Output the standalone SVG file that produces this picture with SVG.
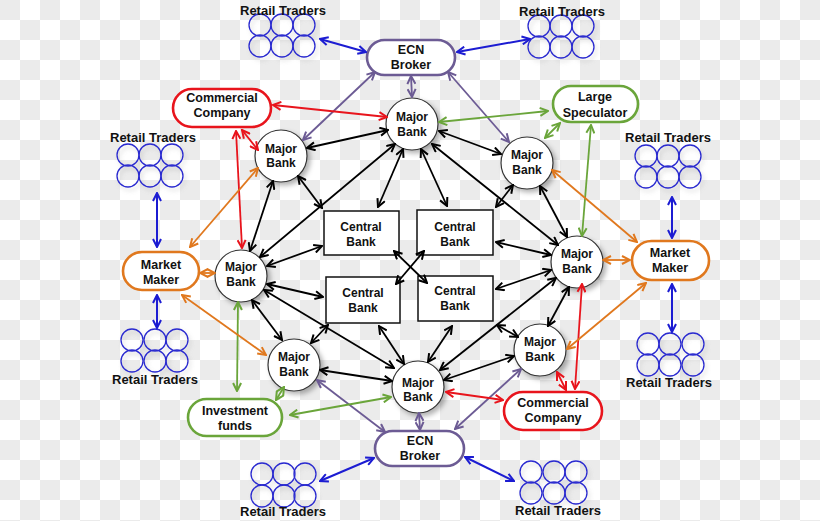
<svg xmlns="http://www.w3.org/2000/svg" width="820" height="521" viewBox="0 0 820 521">
<defs>
<pattern id="chk" x="0" y="0" width="40" height="40" patternUnits="userSpaceOnUse">
<rect width="40" height="40" fill="#ffffff"/>
<rect width="20" height="20" fill="#ebebeb"/>
<rect x="20" y="20" width="20" height="20" fill="#ebebeb"/>
</pattern>
<filter id="sh" x="-30%" y="-30%" width="170%" height="170%">
<feDropShadow dx="3" dy="3" stdDeviation="2.5" flood-color="#000" flood-opacity="0.3"/>
</filter>
<filter id="glow" x="-30%" y="-30%" width="170%" height="170%">
<feDropShadow dx="2" dy="3" stdDeviation="2" flood-color="#888" flood-opacity="0.35"/>
</filter>
<marker id="mk" viewBox="0 0 10 10" refX="9" refY="5" markerWidth="10" markerHeight="10" markerUnits="userSpaceOnUse" orient="auto-start-reverse"><path d="M1,1 L9,5 L1,9" fill="none" stroke="#000" stroke-width="2"/></marker>
<marker id="mb" viewBox="0 0 10 10" refX="9" refY="5" markerWidth="10" markerHeight="10" markerUnits="userSpaceOnUse" orient="auto-start-reverse"><path d="M1,1 L9,5 L1,9" fill="none" stroke="#1c1cd2" stroke-width="2"/></marker>
<marker id="mp" viewBox="0 0 10 10" refX="9" refY="5" markerWidth="10" markerHeight="10" markerUnits="userSpaceOnUse" orient="auto-start-reverse"><path d="M1,1 L9,5 L1,9" fill="none" stroke="#6c5b94" stroke-width="2"/></marker>
<marker id="mr" viewBox="0 0 10 10" refX="9" refY="5" markerWidth="10" markerHeight="10" markerUnits="userSpaceOnUse" orient="auto-start-reverse"><path d="M1,1 L9,5 L1,9" fill="none" stroke="#e8141c" stroke-width="2"/></marker>
<marker id="mg" viewBox="0 0 10 10" refX="9" refY="5" markerWidth="10" markerHeight="10" markerUnits="userSpaceOnUse" orient="auto-start-reverse"><path d="M1,1 L9,5 L1,9" fill="none" stroke="#6aa53a" stroke-width="2"/></marker>
<marker id="mo" viewBox="0 0 10 10" refX="9" refY="5" markerWidth="10" markerHeight="10" markerUnits="userSpaceOnUse" orient="auto-start-reverse"><path d="M1,1 L9,5 L1,9" fill="none" stroke="#e0781e" stroke-width="2"/></marker>
</defs>
<style>
text{font-family:"Liberation Sans",Arial,sans-serif;font-weight:bold;font-size:12px;fill:#111;text-anchor:middle}
.lbl{font-size:13px}
.pt{font-size:12.5px}
.tc{fill:none;stroke:#2a2ad0;stroke-width:1.3}
.bank{fill:#fff;stroke:#333;stroke-width:1.2;filter:url(#sh)}
.cb{fill:#fff;stroke:#111;stroke-width:1.5}
.pill{fill:#fff;stroke-width:2.6}
.ecn{stroke:#6c5b94}
.red{stroke:#e8141c}
.grn{stroke:#6aa53a}
.org{stroke:#e0781e}
.k{stroke:#000;stroke-width:1.8;marker-start:url(#mk);marker-end:url(#mk);fill:none}
.b{stroke:#1c1cd2;stroke-width:2;marker-start:url(#mb);marker-end:url(#mb);fill:none}
.p{stroke:#6c5b94;stroke-width:1.8;marker-start:url(#mp);marker-end:url(#mp);fill:none}
.r{stroke:#e8141c;stroke-width:1.8;marker-start:url(#mr);marker-end:url(#mr);fill:none}
.g{stroke:#6aa53a;stroke-width:1.8;marker-start:url(#mg);marker-end:url(#mg);fill:none}
.o{stroke:#e0781e;stroke-width:1.8;marker-start:url(#mo);marker-end:url(#mo);fill:none}
</style>
<rect width="820" height="521" fill="url(#chk)"/>

<g id="traders-top-left">
<g filter="url(#glow)"><circle class="tc" cx="260" cy="25" r="11"/><circle class="tc" cx="282" cy="25" r="11"/><circle class="tc" cx="304" cy="25" r="11"/><circle class="tc" cx="260" cy="46" r="11"/><circle class="tc" cx="282" cy="46" r="11"/><circle class="tc" cx="304" cy="46" r="11"/></g>
<text class="lbl" x="283" y="15">Retail Traders</text>
</g>
<g id="traders-top-right">
<g filter="url(#glow)"><circle class="tc" cx="539" cy="26" r="11"/><circle class="tc" cx="561" cy="26" r="11"/><circle class="tc" cx="583" cy="26" r="11"/><circle class="tc" cx="539" cy="47" r="11"/><circle class="tc" cx="561" cy="47" r="11"/><circle class="tc" cx="583" cy="47" r="11"/></g>
<text class="lbl" x="562" y="16">Retail Traders</text>
</g>
<g id="traders-left-upper">
<g filter="url(#glow)"><circle class="tc" cx="128" cy="155" r="11"/><circle class="tc" cx="150" cy="155" r="11"/><circle class="tc" cx="172" cy="155" r="11"/><circle class="tc" cx="128" cy="176" r="11"/><circle class="tc" cx="150" cy="176" r="11"/><circle class="tc" cx="172" cy="176" r="11"/></g>
<text class="lbl" x="153" y="142">Retail Traders</text>
</g>
<g id="traders-right-upper">
<g filter="url(#glow)"><circle class="tc" cx="646" cy="156" r="11"/><circle class="tc" cx="668" cy="156" r="11"/><circle class="tc" cx="690" cy="156" r="11"/><circle class="tc" cx="646" cy="177" r="11"/><circle class="tc" cx="668" cy="177" r="11"/><circle class="tc" cx="690" cy="177" r="11"/></g>
<text class="lbl" x="668" y="142">Retail Traders</text>
</g>
<g id="traders-left-lower">
<g filter="url(#glow)"><circle class="tc" cx="132" cy="340" r="11"/><circle class="tc" cx="155" cy="340" r="11"/><circle class="tc" cx="177" cy="340" r="11"/><circle class="tc" cx="132" cy="361" r="11"/><circle class="tc" cx="155" cy="361" r="11"/><circle class="tc" cx="177" cy="361" r="11"/></g>
<text class="lbl" x="155" y="384">Retail Traders</text>
</g>
<g id="traders-right-lower">
<g filter="url(#glow)"><circle class="tc" cx="648" cy="344" r="11"/><circle class="tc" cx="670" cy="344" r="11"/><circle class="tc" cx="693" cy="344" r="11"/><circle class="tc" cx="648" cy="365" r="11"/><circle class="tc" cx="670" cy="365" r="11"/><circle class="tc" cx="693" cy="365" r="11"/></g>
<text class="lbl" x="669" y="387">Retail Traders</text>
</g>
<g id="traders-bottom-left">
<g filter="url(#glow)"><circle class="tc" cx="262" cy="474" r="11"/><circle class="tc" cx="284" cy="474" r="11"/><circle class="tc" cx="305" cy="474" r="11"/><circle class="tc" cx="262" cy="496" r="11"/><circle class="tc" cx="284" cy="496" r="11"/><circle class="tc" cx="305" cy="496" r="11"/></g>
<text class="lbl" x="283" y="516">Retail Traders</text>
</g>
<g id="traders-bottom-right">
<g filter="url(#glow)"><circle class="tc" cx="531" cy="472" r="11"/><circle class="tc" cx="554" cy="472" r="11"/><circle class="tc" cx="576" cy="472" r="11"/><circle class="tc" cx="531" cy="493" r="11"/><circle class="tc" cx="554" cy="493" r="11"/><circle class="tc" cx="576" cy="493" r="11"/></g>
<text class="lbl" x="558" y="515">Retail Traders</text>
</g>

<g id="ecn-top"><rect class="pill ecn" x="367" y="40" width="88" height="35" rx="17.5"/><text class="pt" x="411" y="54">ECN</text><text class="pt" x="411" y="69">Broker</text></g>
<g id="ecn-bottom"><rect class="pill ecn" x="375" y="431" width="89" height="35" rx="17.5"/><text class="pt" x="420" y="445">ECN</text><text class="pt" x="420" y="460">Broker</text></g>
<g id="commercial-top"><rect class="pill red" x="173" y="89" width="98" height="38" rx="19"/><text class="pt" x="222" y="102">Commercial</text><text class="pt" x="222" y="117">Company</text></g>
<g id="commercial-bottom"><rect class="pill red" x="504" y="392" width="98" height="38" rx="19"/><text class="pt" x="553" y="407">Commercial</text><text class="pt" x="553" y="422">Company</text></g>
<g id="large-speculator"><rect class="pill grn" x="553" y="86" width="85" height="36" rx="18"/><text class="pt" x="595" y="101">Large</text><text class="pt" x="595" y="117">Speculator</text></g>
<g id="investment-funds"><rect class="pill grn" x="188" y="399" width="94" height="37" rx="18.5"/><text class="pt" x="235" y="415">Investment</text><text class="pt" x="235" y="430">funds</text></g>
<g id="market-maker-left"><rect class="pill org" x="123" y="252" width="76" height="38" rx="19"/><text class="pt" x="161" y="269">Market</text><text class="pt" x="161" y="284">Maker</text></g>
<g id="market-maker-right"><rect class="pill org" x="632" y="241" width="77" height="39" rx="19.5"/><text class="pt" x="670" y="257">Market</text><text class="pt" x="670" y="272">Maker</text></g>

<g id="bank-top"><circle class="bank" cx="412" cy="124" r="26"/><text x="412" y="121">Major</text><text x="412" y="136">Bank</text></g>
<g id="bank-upper-left"><circle class="bank" cx="281" cy="156" r="26"/><text x="281" y="153">Major</text><text x="281" y="167">Bank</text></g>
<g id="bank-upper-right"><circle class="bank" cx="527" cy="163" r="26"/><text x="527" y="159">Major</text><text x="527" y="174">Bank</text></g>
<g id="bank-left"><circle class="bank" cx="241" cy="276" r="26"/><text x="241" y="271">Major</text><text x="241" y="286">Bank</text></g>
<g id="bank-right"><circle class="bank" cx="577" cy="262" r="26"/><text x="577" y="258">Major</text><text x="577" y="273">Bank</text></g>
<g id="bank-lower-left"><circle class="bank" cx="294" cy="365" r="26"/><text x="294" y="361">Major</text><text x="294" y="376">Bank</text></g>
<g id="bank-lower-right"><circle class="bank" cx="540" cy="350" r="26"/><text x="540" y="346">Major</text><text x="540" y="361">Bank</text></g>
<g id="bank-bottom"><circle class="bank" cx="418" cy="387" r="26"/><text x="418" y="387">Major</text><text x="418" y="401">Bank</text></g>

<g id="central-tl"><rect class="cb" x="324" y="211" width="75" height="44"/><text x="361" y="231">Central</text><text x="361" y="246">Bank</text></g>
<g id="central-tr"><rect class="cb" x="417" y="210" width="76" height="45"/><text x="455" y="231">Central</text><text x="455" y="246">Bank</text></g>
<g id="central-bl"><rect class="cb" x="326" y="277" width="74" height="46"/><text x="363" y="297">Central</text><text x="363" y="312">Bank</text></g>
<g id="central-br"><rect class="cb" x="418" y="276" width="75" height="45"/><text x="455" y="295">Central</text><text x="455" y="310">Bank</text></g>

<g id="connectors">
<line class="k" x1="388" y1="130" x2="307" y2="148"/>
<line class="k" x1="439" y1="131" x2="501" y2="154"/>
<line class="k" x1="395" y1="144" x2="260" y2="257"/>
<line class="k" x1="432" y1="144" x2="558" y2="245"/>
<line class="k" x1="403" y1="149" x2="378" y2="207"/>
<line class="k" x1="421" y1="149" x2="447" y2="206"/>
<line class="k" x1="273" y1="181" x2="250" y2="251"/>
<line class="k" x1="298" y1="176" x2="322" y2="208"/>
<line class="k" x1="540" y1="186" x2="567" y2="237"/>
<line class="k" x1="513" y1="185" x2="496" y2="207"/>
<line class="k" x1="267" y1="266" x2="322" y2="246"/>
<line class="k" x1="267" y1="284" x2="323" y2="297"/>
<line class="k" x1="252" y1="300" x2="282" y2="340"/>
<line class="k" x1="264" y1="290" x2="394" y2="368"/>
<line class="k" x1="551" y1="255" x2="496" y2="242"/>
<line class="k" x1="551" y1="270" x2="496" y2="289"/>
<line class="k" x1="569" y1="287" x2="548" y2="326"/>
<line class="k" x1="556" y1="278" x2="440" y2="370"/>
<line class="k" x1="311" y1="343" x2="328" y2="325"/>
<line class="k" x1="320" y1="370" x2="392" y2="381"/>
<line class="k" x1="518" y1="337" x2="497" y2="325"/>
<line class="k" x1="514" y1="356" x2="444" y2="380"/>
<line class="k" x1="404" y1="364" x2="379" y2="326"/>
<line class="k" x1="428" y1="362" x2="452" y2="326"/>
<line class="k" x1="394" y1="251" x2="427" y2="283"/>
<line class="k" x1="424" y1="251" x2="396" y2="284"/>
<line class="b" x1="320" y1="39" x2="366" y2="52"/>
<line class="b" x1="530" y1="39" x2="457" y2="52"/>
<line class="b" x1="157" y1="193" x2="157" y2="247"/>
<line class="b" x1="157" y1="295" x2="157" y2="328"/>
<line class="b" x1="672" y1="197" x2="672" y2="238"/>
<line class="b" x1="672" y1="284" x2="672" y2="332"/>
<line class="b" x1="320" y1="481" x2="374" y2="458"/>
<line class="b" x1="465" y1="457" x2="514" y2="481"/>
<line class="p" x1="411" y1="76" x2="412" y2="97"/>
<line class="p" x1="375" y1="72" x2="303" y2="140"/>
<line class="p" x1="448" y1="72" x2="509" y2="142"/>
<line class="p" x1="419" y1="413" x2="420" y2="430"/>
<line class="p" x1="317" y1="380" x2="385" y2="432"/>
<line class="p" x1="521" y1="369" x2="455" y2="429"/>
<line class="r" x1="273" y1="105" x2="387" y2="117"/>
<line class="r" x1="242" y1="130" x2="258" y2="150"/>
<line class="r" x1="236" y1="131" x2="242" y2="248"/>
<line class="r" x1="446" y1="392" x2="503" y2="400"/>
<line class="r" x1="557" y1="372" x2="566" y2="390"/>
<line class="r" x1="582" y1="284" x2="575" y2="389"/>
<line class="g" x1="439" y1="122" x2="548" y2="111"/>
<line class="g" x1="545" y1="138" x2="560" y2="123"/>
<line class="g" x1="591" y1="125" x2="582" y2="236"/>
<line class="g" x1="238" y1="302" x2="237" y2="391"/>
<line class="g" x1="284" y1="387" x2="276" y2="400"/>
<line class="g" x1="290" y1="415" x2="391" y2="397"/>
<line class="o" x1="190" y1="247" x2="258" y2="168"/>
<line class="o" x1="200" y1="273" x2="215" y2="273"/>
<line class="o" x1="182" y1="295" x2="266" y2="355"/>
<line class="o" x1="552" y1="170" x2="637" y2="242"/>
<line class="o" x1="603" y1="260" x2="630" y2="260"/>
<line class="o" x1="567" y1="349" x2="646" y2="283"/>
</g>
</svg>
